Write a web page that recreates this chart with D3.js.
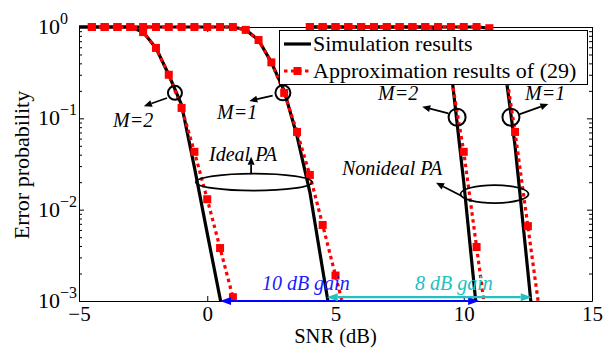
<!DOCTYPE html>
<html>
<head>
<meta charset="utf-8">
<script src="https://cdn.jsdelivr.net/npm/d3@7"></script>
<style>
  html, body { margin: 0; padding: 0; background: #fff; }
  svg { display: block; font-family: "Liberation Serif", "Times New Roman", serif; }
</style>
</head>
<body>
<svg id="chart" width="608" height="348"></svg>
<script>
// ---- Data: SNR grids (dB) and error probabilities ----
// Ideal PA, M = 2
const snrIdealM2Sim = [-5, -4.5, -4, -3.5, -3, -2.5, -2, -1.5, -1, -0.5, 0, 0.5, 1];
const simIdealM2    = [1, 1, 1, 1, 1, 0.88, 0.59, 0.30, 0.14, 0.029, 0.0055, 0.00107, 0.0002];
const snrIdealM2Apx = [-4.5, -4, -3.5, -3, -2.5, -2, -1.5, -1, -0.5, 0, 0.5, 1, 1.5];
const apxIdealM2    = [1, 1, 1, 1, 0.88, 0.59, 0.30, 0.13, 0.043, 0.013, 0.0038, 0.0011, 0.0003];

// Ideal PA, M = 1
const snrIdealM1Sim = [-5, -4.5, -4, -3.5, -3, -2.5, -2, -1.5, -1, -0.5, 0, 0.5, 1, 1.5, 2, 2.5, 3, 3.5, 4, 4.5, 5];
const simIdealM1    = [1, 1, 1, 1, 1, 1, 1, 1, 1, 1, 1, 1, 1, 0.93, 0.72, 0.41, 0.20, 0.064, 0.0156, 0.0022, 0.00032];
const snrIdealM1Apx = [-4.5, -4, -3.5, -3, -2.5, -2, -1.5, -1, -0.5, 0, 0.5, 1, 1.5, 2, 2.5, 3, 3.5, 4, 4.5, 5, 5.5];
const apxIdealM1    = [1, 1, 1, 1, 1, 1, 1, 1, 1, 1, 1, 1, 0.93, 0.72, 0.41, 0.19, 0.071, 0.024, 0.0068, 0.0019, 0.00054];

// Nonideal PA, M = 2
const snrNonM2 = [4, 4.5, 5, 5.5, 6, 6.5, 7, 7.5, 8, 8.5, 9, 9.5, 10, 10.5, 11];
const simNonM2 = [1, 1, 1, 1, 1, 1, 1, 1, 1, 1, 0.95, 0.35, 0.020, 0.0008, 0.00003];
const apxNonM2 = [1, 1, 1, 1, 1, 1, 1, 1, 1, 1, 0.95, 0.30, 0.043, 0.0039, 0.00035];

// Nonideal PA, M = 1
const snrNonM1 = [4, 4.5, 5, 5.5, 6, 6.5, 7, 7.5, 8, 8.5, 9, 9.5, 10, 10.5, 11, 11.5, 12, 12.5, 13];
const simNonM1 = [1, 1, 1, 1, 1, 1, 1, 1, 1, 1, 1, 1, 1, 1, 0.97, 0.58, 0.050, 0.0021, 0.00008];
const apxNonM1 = [1, 1, 1, 1, 1, 1, 1, 1, 1, 1, 1, 1, 1, 1, 0.97, 0.60, 0.071, 0.0066, 0.00062];

// Axis ticks and labels
const xTicks = [-5, 0, 5, 10, 15];
const xTickLabels = ["\u22125", "0", "5", "10", "15"];
const yTicks = [1, 0.1, 0.01, 0.001];
const yTickExponents = ["0", "\u22121", "\u22122", "\u22123"];

const legendLabels = ["Simulation results", "Approximation results of (29)"];

// ---- Layout ----
const svg = d3.select("#chart");
const plot = { left: 79, right: 592, top: 27, bottom: 301 };
const x = d3.scaleLinear().domain([-5, 15]).range([plot.left, plot.right]);
const y = d3.scaleLog().domain([1e-3, 1]).range([plot.bottom, plot.top]);

const defs = svg.append("defs");
defs.append("clipPath").attr("id", "plotClip").append("rect")
  .attr("x", plot.left).attr("y", plot.top - 8)
  .attr("width", plot.right - plot.left).attr("height", plot.bottom - plot.top + 8);

// ---- Axes (box with inward ticks) ----
const axisG = svg.append("g").attr("class", "axes");
const allYTicks = y.ticks();
const isMajor = v => Math.abs(Math.log10(v) - Math.round(Math.log10(v))) < 1e-9;

const xBottom = axisG.append("g").attr("transform", `translate(0,${plot.bottom})`)
  .call(d3.axisBottom(x).tickValues(xTicks).tickSizeInner(-5).tickSizeOuter(0)
    .tickFormat((d, i) => xTickLabels[i]));
const xTop = axisG.append("g").attr("transform", `translate(0,${plot.top})`)
  .call(d3.axisTop(x).tickValues(xTicks).tickSizeInner(-5).tickSizeOuter(0).tickFormat(""));
const yLeft = axisG.append("g").attr("transform", `translate(${plot.left},0)`)
  .call(d3.axisLeft(y).tickValues(allYTicks).tickSizeInner(-5).tickSizeOuter(0).tickFormat(""));
const yRight = axisG.append("g").attr("transform", `translate(${plot.right},0)`)
  .call(d3.axisRight(y).tickValues(allYTicks).tickSizeInner(-5).tickSizeOuter(0).tickFormat(""));

yLeft.selectAll(".tick line").attr("x2", d => isMajor(d) ? 5 : 3);
yRight.selectAll(".tick line").attr("x2", d => isMajor(d) ? -5 : -3);
axisG.selectAll(".domain").attr("stroke", "#000").attr("stroke-width", 1);
axisG.selectAll(".tick line").attr("stroke", "#000").attr("stroke-width", 1);

xBottom.selectAll(".tick text")
  .attr("y", 19.5).attr("dy", 0)
  .attr("font-size", 21).attr("font-family", "Liberation Serif, serif").attr("fill", "#000");

// y tick labels as 10^k
const yLab = axisG.append("g");
yTicks.forEach((v, i) => {
  const t = yLab.append("text")
    .attr("x", 38).attr("y", y(v) + 7)
    .attr("font-size", 22).attr("fill", "#000");
  t.append("tspan").text("10");
  t.append("tspan").attr("font-size", 16).attr("dy", -10).text(yTickExponents[i]);
});

// axis titles
svg.append("text")
  .attr("x", (plot.left + plot.right) / 2).attr("y", 343.4)
  .attr("text-anchor", "middle").attr("font-size", 20.5).attr("fill", "#000")
  .text("SNR (dB)");
svg.append("text")
  .attr("transform", `translate(29,${(plot.top + plot.bottom) / 2 + 1}) rotate(-90)`)
  .attr("text-anchor", "middle").attr("font-size", 22).attr("fill", "#000")
  .text("Error probability");

// ---- Curves ----
const curves = svg.append("g").attr("clip-path", "url(#plotClip)");
const line = d3.line().x(d => x(d[0])).y(d => y(d[1]));
const zipPts = (s, p) => s.map((v, i) => [v, p[i]]);

const simSets = [
  zipPts(snrIdealM2Sim, simIdealM2), zipPts(snrIdealM1Sim, simIdealM1),
  zipPts(snrNonM2, simNonM2), zipPts(snrNonM1, simNonM1)
];
const apxSets = [
  zipPts(snrIdealM2Apx, apxIdealM2), zipPts(snrIdealM1Apx, apxIdealM1),
  zipPts(snrNonM2, apxNonM2), zipPts(snrNonM1, apxNonM1)
];

simSets.forEach(pts => {
  curves.append("path").datum(pts).attr("d", line)
    .attr("fill", "none").attr("stroke", "#000").attr("stroke-width", 3.2)
    .attr("stroke-linejoin", "round");
});
apxSets.forEach(pts => {
  curves.append("path").datum(pts).attr("d", line)
    .attr("fill", "none").attr("stroke", "#ff0000").attr("stroke-width", 3.2)
    .attr("stroke-dasharray", "3.5,3.5");
});
// square markers (only for points inside the axis range)
const markerG = svg.append("g");
apxSets.forEach(pts => {
  markerG.selectAll(null)
    .data(pts.filter(d => d[1] >= 1e-3 && d[0] >= -5 && d[0] <= 15))
    .join("rect")
    .attr("x", d => x(d[0]) - 4).attr("y", d => y(d[1]) - 4)
    .attr("width", 8).attr("height", 8).attr("fill", "#ff0000");
});

// ---- Annotations ----
const ann = svg.append("g");

function arrowHead(g, x1, y1, x2, y2, color, len, half) {
  const a = Math.atan2(y2 - y1, x2 - x1);
  const bx = x2 - len * Math.cos(a), by = y2 - len * Math.sin(a);
  const px = -Math.sin(a) * half, py = Math.cos(a) * half;
  g.append("polygon")
    .attr("points", `${x2},${y2} ${bx + px},${by + py} ${bx - px},${by - py}`)
    .attr("fill", color);
  return [bx, by];
}
function arrow(g, p1, p2, color, w, len, half, both) {
  const x1 = x(p1[0]), y1 = y(p1[1]), x2 = x(p2[0]), y2 = y(p2[1]);
  const end = arrowHead(g, x1, y1, x2, y2, color, len, half);
  let start = [x1, y1];
  if (both) start = arrowHead(g, x2, y2, x1, y1, color, len, half);
  g.append("line")
    .attr("x1", start[0]).attr("y1", start[1]).attr("x2", end[0]).attr("y2", end[1])
    .attr("stroke", color).attr("stroke-width", w);
}

// circles marking each curve pair
const circleMarks = [
  { snr: -1.26, pe: 0.19, r: 7 },
  { snr: 2.95, pe: 0.19, r: 7.5 },
  { snr: 9.74, pe: 0.103, r: 8.5 },
  { snr: 11.84, pe: 0.103, r: 8.5 }
];
circleMarks.forEach(c => {
  ann.append("circle").attr("cx", x(c.snr)).attr("cy", y(c.pe)).attr("r", c.r)
    .attr("fill", "none").attr("stroke", "#000").attr("stroke-width", 2);
});

// ellipses grouping ideal / nonideal curves
const ellipseMarks = [
  { snr: 1.82, pe: 0.020, rx: 58, ry: 8.5 },
  { snr: 11.20, pe: 0.0148, rx: 34, ry: 9 }
];
ellipseMarks.forEach(e => {
  ann.append("ellipse").attr("cx", x(e.snr)).attr("cy", y(e.pe)).attr("rx", e.rx).attr("ry", e.ry)
    .attr("fill", "none").attr("stroke", "#000").attr("stroke-width", 1.8);
});

// pointer arrows from circles / ellipses to labels
const pointerArrows = [
  { from: [-1.57, 0.167], to: [-2.47, 0.136] },
  { from: [2.55, 0.177], to: [1.64, 0.155] },
  { from: [9.40, 0.1135], to: [8.38, 0.134] },
  { from: [12.19, 0.111], to: [13.30, 0.1435] },
  { from: [1.71, 0.0245], to: [1.71, 0.038] },
  { from: [9.92, 0.0141], to: [8.92, 0.0197] }
];
pointerArrows.forEach(a => arrow(ann, a.from, a.to, "#000", 1.8, 8, 3.5, false));

// gain arrows
arrow(ann, [0.5, 0.001], [10.6, 0.001], "#0000ff", 2.2, 11, 4, true);
arrow(ann, [4.66, 0.0011], [12.65, 0.0011], "#22c0c0", 2.2, 11, 4, true);

// italic annotation labels
const annLabels = [
  { text: "M=2", snr: -3.67, pe: 0.0804, color: "#000" },
  { text: "M=1", snr: 0.38, pe: 0.0984, color: "#000" },
  { text: "M=2", snr: 6.66, pe: 0.158, color: "#000" },
  { text: "M=1", snr: 12.39, pe: 0.158, color: "#000" },
  { text: "Ideal PA", snr: 0.07, pe: 0.0341, color: "#000" },
  { text: "Nonideal PA", snr: 5.25, pe: 0.024, color: "#000" },
  { text: "10 dB gain", snr: 2.13, pe: 0.00132, color: "#1a1aff" },
  { text: "8 dB gain", snr: 8.10, pe: 0.00132, color: "#22c0c0" }
];
annLabels.forEach(l => {
  ann.append("text").attr("x", x(l.snr)).attr("y", y(l.pe))
    .attr("font-size", 20).attr("font-style", "italic").attr("fill", l.color)
    .text(l.text);
});

// ---- Legend ----
const leg = svg.append("g");
leg.append("rect").attr("x", 279.5).attr("y", 30.5).attr("width", 308).attr("height", 54)
  .attr("fill", "#fff").attr("stroke", "#000").attr("stroke-width", 1);
leg.append("line").attr("x1", 284).attr("x2", 311).attr("y1", 44).attr("y2", 44)
  .attr("stroke", "#000").attr("stroke-width", 3.2);
leg.append("line").attr("x1", 284).attr("x2", 311).attr("y1", 71).attr("y2", 71)
  .attr("stroke", "#ff0000").attr("stroke-width", 3.2).attr("stroke-dasharray", "3.5,3.5");
leg.append("rect").attr("x", 293.5).attr("y", 67).attr("width", 8).attr("height", 8).attr("fill", "#ff0000");
leg.append("text").attr("x", 313).attr("y", 51).attr("font-size", 22).attr("fill", "#000").text(legendLabels[0]);
leg.append("text").attr("x", 313).attr("y", 78).attr("font-size", 22).attr("fill", "#000").text(legendLabels[1]);
</script>
</body>
</html>
